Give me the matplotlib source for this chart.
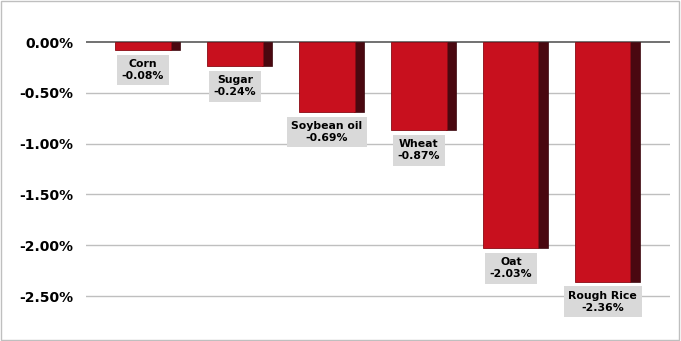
import matplotlib
matplotlib.use("Agg")
import matplotlib.pyplot as plt
from matplotlib.patches import Rectangle
from matplotlib.ticker import FuncFormatter

categories = ["Corn", "Sugar", "Soybean oil", "Wheat", "Oat", "Rough Rice"]
values = [-0.08, -0.24, -0.69, -0.87, -2.03, -2.36]
yticks = [0.0, -0.5, -1.0, -1.5, -2.0, -2.5]

fig = plt.figure(figsize=(6.81, 3.41), dpi=100)
fig.patches.append(Rectangle((0.0015, 0.003), 0.996, 0.993, transform=fig.transFigure,
                             fill=False, edgecolor="#bfbfbf", linewidth=1))
ax = fig.add_axes([86/681, 1-321.4/341, (670-86)/681, (321.4-16.6)/341])

x = list(range(len(categories)))
front_w = 0.6
side_w = 0.11
for xi, v in zip(x, values):
    ax.bar(xi + front_w/2 + side_w/2 - 0.01, v, width=side_w, color="#4a0810",
           edgecolor="#3a060c", linewidth=0.5, zorder=2)
ax.bar(x, values, width=front_w, color="#c8101e", edgecolor="#8a0a14",
       linewidth=0.6, zorder=3)

for xi, v, c in zip(x, values, categories):
    ax.annotate(f"{c}\n{v:.2f}%", xy=(xi, v), xytext=(0, -6.5), textcoords="offset points",
                ha="center", va="top", fontsize=7.8, fontweight="bold", color="#000000",
                linespacing=1.25,
                bbox=dict(boxstyle="square,pad=0.4", facecolor="#d9d9d9", edgecolor="none"),
                zorder=5)

ax.set_xlim(-0.62, 5.73)
ax.set_ylim(-2.75, 0.25)
ax.set_yticks(yticks)
ax.yaxis.set_major_formatter(FuncFormatter(lambda v, p: f"{v:.2f}%"))
ax.tick_params(axis="y", length=0, pad=9, labelsize=10)
for lbl in ax.get_yticklabels():
    lbl.set_fontweight("bold")
ax.set_xticks([])
for t in yticks:
    ax.axhline(t, color="#595959" if t == 0 else "#bfbfbf", linewidth=1.2 if t == 0 else 1, zorder=1)
for s in ax.spines.values():
    s.set_visible(False)

fig.savefig("out.png", dpi=100)
